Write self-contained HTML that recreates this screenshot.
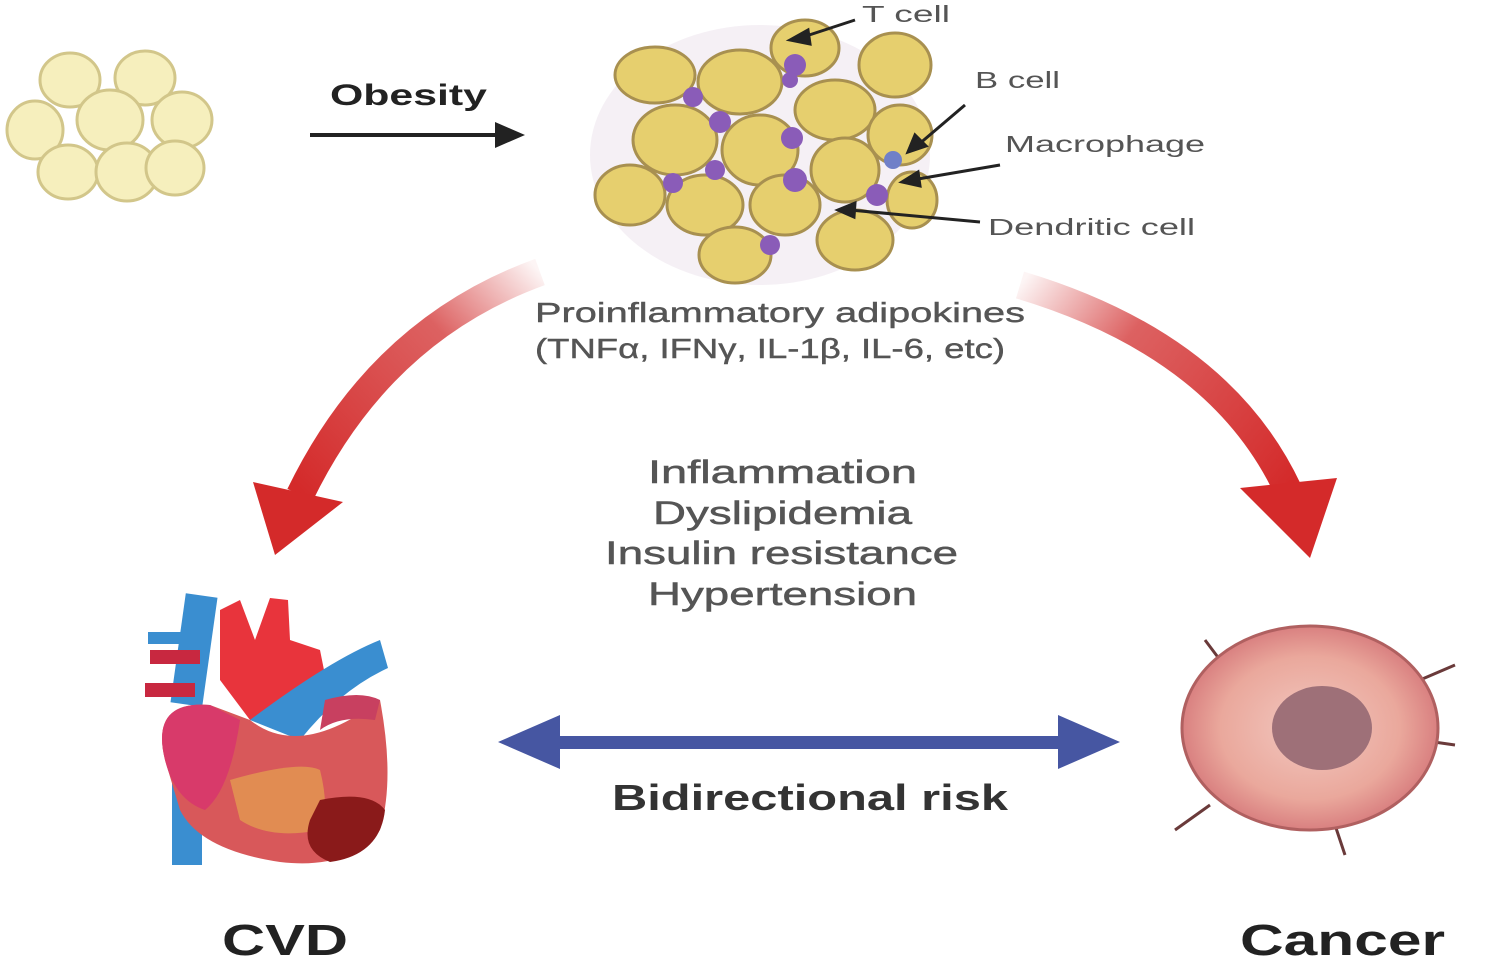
<!DOCTYPE html>
<html><head><meta charset="utf-8"><style>
html,body{margin:0;padding:0;background:#fff;}
svg{display:block;}
text{font-family:"Liberation Sans",sans-serif;}
</style></head><body>
<svg width="1500" height="960" viewBox="0 0 1500 960" xmlns="http://www.w3.org/2000/svg">
<defs>
<linearGradient id="gl" x1="540" y1="272" x2="300" y2="490" gradientUnits="userSpaceOnUse">
<stop offset="0" stop-color="#d43a3a" stop-opacity="0.05"/><stop offset="0.35" stop-color="#d43a3a" stop-opacity="0.8"/><stop offset="1" stop-color="#d42a2a"/></linearGradient>
<linearGradient id="gr" x1="1020" y1="285" x2="1285" y2="490" gradientUnits="userSpaceOnUse">
<stop offset="0" stop-color="#d43a3a" stop-opacity="0.05"/><stop offset="0.35" stop-color="#d43a3a" stop-opacity="0.8"/><stop offset="1" stop-color="#d42a2a"/></linearGradient>
<radialGradient id="cg" cx="0.5" cy="0.5" r="0.5"><stop offset="0" stop-color="#f2c8c0"/><stop offset="0.7" stop-color="#eaa89c"/><stop offset="1" stop-color="#d98080"/></radialGradient>
</defs>

<g fill="#f6efbd" stroke="#d2c68a" stroke-width="3">
<ellipse cx="70" cy="80" rx="30" ry="27"/><ellipse cx="145" cy="78" rx="30" ry="27"/>
<ellipse cx="35" cy="130" rx="28" ry="29"/><ellipse cx="110" cy="120" rx="33" ry="30"/>
<ellipse cx="182" cy="120" rx="30" ry="28"/><ellipse cx="68" cy="172" rx="30" ry="27"/>
<ellipse cx="127" cy="172" rx="31" ry="29"/><ellipse cx="175" cy="168" rx="29" ry="27"/>
</g>

<text x="330" y="105" font-size="30" font-weight="bold" fill="#222" textLength="157" lengthAdjust="spacingAndGlyphs">Obesity</text>
<line x1="310" y1="135" x2="500" y2="135" stroke="#222" stroke-width="4"/>
<polygon points="525,135 495,122 495,148" fill="#222"/>

<ellipse cx="760" cy="155" rx="170" ry="130" fill="#efe6ee" opacity="0.6"/>
<g fill="#e6cf6e" stroke="#a89050" stroke-width="3">
<ellipse cx="655" cy="75" rx="40" ry="28"/><ellipse cx="740" cy="82" rx="42" ry="32"/>
<ellipse cx="805" cy="48" rx="34" ry="28"/><ellipse cx="895" cy="65" rx="36" ry="32"/>
<ellipse cx="675" cy="140" rx="42" ry="35"/><ellipse cx="760" cy="150" rx="38" ry="35"/>
<ellipse cx="835" cy="110" rx="40" ry="30"/><ellipse cx="900" cy="135" rx="32" ry="30"/>
<ellipse cx="630" cy="195" rx="35" ry="30"/><ellipse cx="705" cy="205" rx="38" ry="30"/>
<ellipse cx="785" cy="205" rx="35" ry="30"/><ellipse cx="845" cy="170" rx="34" ry="32"/>
<ellipse cx="735" cy="255" rx="36" ry="28"/><ellipse cx="855" cy="240" rx="38" ry="30"/>
<ellipse cx="912" cy="200" rx="25" ry="28"/>
</g>
<g fill="#8a5cb8">
<circle cx="693" cy="97" r="10"/><circle cx="720" cy="122" r="11"/><circle cx="795" cy="65" r="11"/>
<circle cx="792" cy="138" r="11"/><circle cx="715" cy="170" r="10"/><circle cx="795" cy="180" r="12"/>
<circle cx="673" cy="183" r="10"/><circle cx="877" cy="195" r="11"/><circle cx="770" cy="245" r="10"/>
<circle cx="790" cy="80" r="8"/>
</g>
<circle cx="893" cy="160" r="9" fill="#7080c8"/>
<g stroke="#222" stroke-width="3" fill="#222">
<line x1="855" y1="20" x2="800" y2="38"/><polygon points="790,40 808,30 810,44"/>
<line x1="965" y1="105" x2="918" y2="145"/><polygon points="908,152 915,135 926,146"/>
<line x1="1000" y1="165" x2="912" y2="180"/><polygon points="902,182 918,172 920,186"/>
<line x1="980" y1="222" x2="850" y2="210"/><polygon points="838,210 855,203 854,217"/>
</g>
<g font-size="23" fill="#555">
<text x="862" y="22" textLength="88" lengthAdjust="spacingAndGlyphs">T cell</text>
<text x="975" y="88" textLength="85" lengthAdjust="spacingAndGlyphs">B cell</text>
<text x="1005" y="152" textLength="200" lengthAdjust="spacingAndGlyphs">Macrophage</text>
<text x="988" y="235" textLength="207" lengthAdjust="spacingAndGlyphs">Dendritic cell</text>
</g>

<text x="780" y="322" font-size="28" fill="#555" stroke="#555" stroke-width="0.4" text-anchor="middle" textLength="490" lengthAdjust="spacingAndGlyphs">Proinflammatory adipokines</text>
<text x="770" y="358" font-size="28" fill="#555" stroke="#555" stroke-width="0.4" text-anchor="middle" textLength="470" lengthAdjust="spacingAndGlyphs">(TNFα, IFNγ, IL-1β, IL-6, etc)</text>

<path d="M540,272 Q380,330 300,495" fill="none" stroke="url(#gl)" stroke-width="28"/>
<polygon points="253,482 343,502 275,555" fill="#d42a2a"/>
<path d="M1020,285 Q1220,345 1288,490" fill="none" stroke="url(#gr)" stroke-width="28"/>
<polygon points="1240,488 1337,478 1310,558" fill="#d42a2a"/>

<g font-size="32" fill="#555" stroke="#555" stroke-width="0.5">
<text x="648" y="483" textLength="269" lengthAdjust="spacingAndGlyphs">Inflammation</text>
<text x="653" y="524" textLength="259" lengthAdjust="spacingAndGlyphs">Dyslipidemia</text>
<text x="605" y="564" textLength="353" lengthAdjust="spacingAndGlyphs">Insulin resistance</text>
<text x="648" y="605" textLength="269" lengthAdjust="spacingAndGlyphs">Hypertension</text>
</g>

<rect x="550" y="736" width="520" height="13" fill="#4656a2"/>
<polygon points="498,742 560,715 560,769" fill="#4656a2"/>
<polygon points="1120,742 1058,715 1058,769" fill="#4656a2"/>
<text x="612" y="810" font-size="36" font-weight="bold" fill="#333" textLength="396" lengthAdjust="spacingAndGlyphs">Bidirectional risk</text>

<g>
<rect x="172" y="770" width="30" height="95" fill="#3a8ed0"/>
<rect x="178" y="595" width="32" height="110" fill="#3a8ed0" transform="rotate(8 194 650)"/>
<rect x="150" y="650" width="50" height="14" fill="#c82840"/>
<rect x="145" y="683" width="50" height="14" fill="#c82840"/>
<rect x="148" y="632" width="40" height="12" fill="#3a8ed0"/>
<path d="M220,610 L240,600 L255,640 L270,598 L288,600 L290,640 L320,650 L330,700 L250,720 L220,680Z" fill="#e8343c"/>
<path d="M250,720 Q330,660 380,640 L388,668 Q340,690 300,740Z" fill="#3a8ed0"/>
<path d="M165,760 Q150,700 210,705 L250,720 Q300,760 380,700 Q395,780 380,830 Q350,870 280,862 Q200,850 180,810Z" fill="#d8585a"/>
<path d="M165,760 Q150,700 210,705 L240,720 Q230,790 205,810 Q175,800 165,760Z" fill="#d83a6a"/>
<path d="M230,780 Q300,760 320,770 Q330,810 320,830 Q270,840 240,820Z" fill="#e39a50" opacity="0.8"/>
<path d="M320,800 Q370,790 385,810 Q380,855 330,862 Q300,850 310,820Z" fill="#8a1a1a"/>
<path d="M325,700 Q360,690 380,700 L375,720 Q340,715 320,730Z" fill="#c84060"/>
</g>

<g stroke="#6a3a3a" stroke-width="3" fill="none">
<path d="M1205,640 L1220,660 M1455,665 L1420,680 M1455,745 L1420,740 M1175,830 L1210,805 M1345,855 L1335,825"/>
</g>
<ellipse cx="1310" cy="728" rx="128" ry="102" fill="url(#cg)" stroke="#b06060" stroke-width="3"/>
<ellipse cx="1322" cy="728" rx="50" ry="42" fill="#9e7078"/>

<text x="222" y="955" font-size="44" font-weight="bold" fill="#222" textLength="126" lengthAdjust="spacingAndGlyphs">CVD</text>
<text x="1240" y="955" font-size="44" font-weight="bold" fill="#222" textLength="205" lengthAdjust="spacingAndGlyphs">Cancer</text>
</svg>
</body></html>
